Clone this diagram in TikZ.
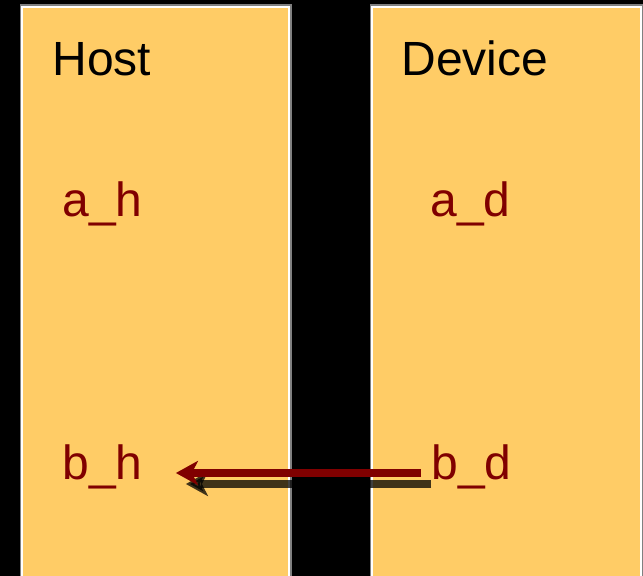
\documentclass[tikz,border=0pt]{standalone}
\usepackage{fontspec}
\setmainfont{Liberation Sans}
\usetikzlibrary{positioning, arrows.meta}
\definecolor{panelorange}{RGB}{255,204,102}
\definecolor{vardark}{RGB}{128,0,0}

\begin{document}
\begin{tikzpicture}[x=0.5pt, y=-0.5pt,
    panel/.style={fill=panelorange, draw=white, line width=1pt},
    title/.style={anchor=base west, inner sep=0pt, font=\fontsize{24}{28}\selectfont, text=black},
    var/.style={anchor=base west, inner sep=0pt, font=\fontsize{24}{28}\selectfont, text=vardark},
    copy/.style={line width=4pt, -{Stealth[length=11pt, width=12pt, inset=3pt]}, shorten <=5pt, shorten >=16.5pt}]
        \fill[black] (0,0) rectangle (643,576);
        \useasboundingbox (0,0) rectangle (643,576);
        \clip (0,0) rectangle (643,576);

        % two memory spaces
        \draw[gray, line width=1.5pt] (21,6) rectangle (290,600);
        \draw[panel] (22,7) rectangle (289,600);
        \draw[gray, line width=1.5pt] (371,6) rectangle (642,600);
        \draw[panel] (372,7) rectangle (641,600);

        \node[title] (host) at (52,76) {Host};
        \node[title] (device) at (401,76) {Device};

        \node[var] (ah) at (62,217) {a\_h};
        \node[var] (ad) at (430,217) {a\_d};
        \node[var] (bh) at (62,480) {b\_h};
        \node[var] (bd) at (431,480) {b\_d};

        % copy back, with its shadow
        \draw[copy, black, opacity=0.75, transform canvas={shift={(5pt,-5.5pt)}}] ([yshift=3.5pt]bd.base west) -- ([yshift=3.5pt]bh.base east);
        \draw[copy, vardark] ([yshift=3.5pt]bd.base west) -- ([yshift=3.5pt]bh.base east);
\end{tikzpicture}
\end{document}
